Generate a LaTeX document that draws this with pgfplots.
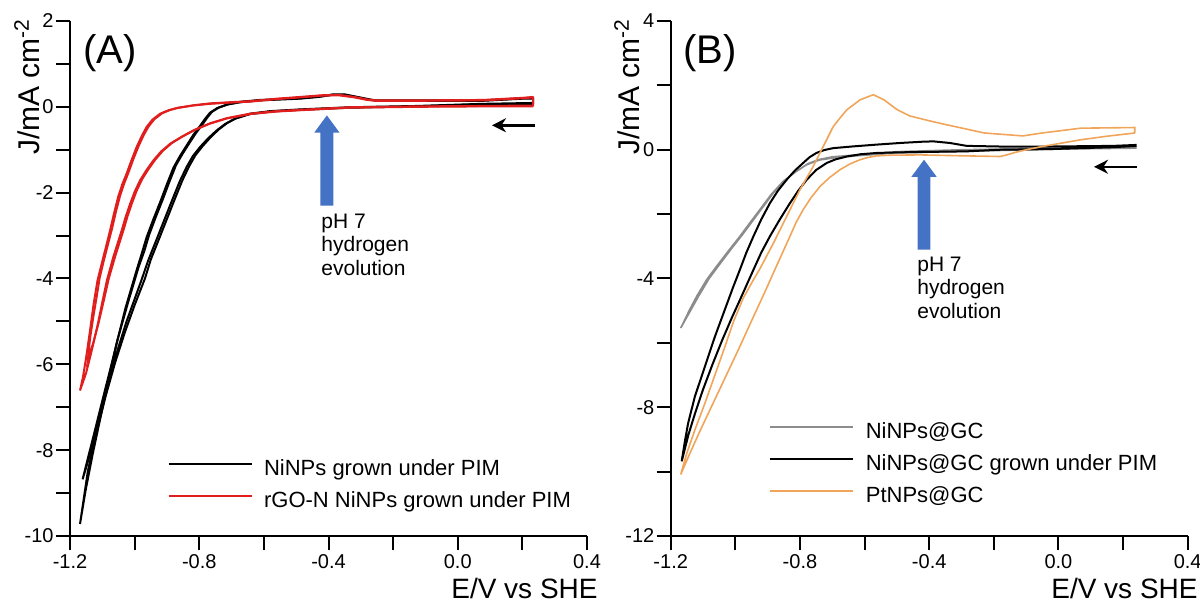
\documentclass[border=0pt]{standalone}
\usepackage{pgfplots}
\pgfplotsset{compat=1.18}
\usepackage{fontspec}
\setmainfont{Liberation Sans}
\usetikzlibrary{arrows.meta}

\definecolor{cvred}{RGB}{225,30,30}
\definecolor{cvorange}{RGB}{240,165,90}
\definecolor{cvgray}{RGB}{140,140,140}
\definecolor{arrowblue}{RGB}{68,114,196}

\tikzset{smallarrow/.style={line width=1.3pt, -{Stealth[length=7pt,width=7pt]}}}

\pgfplotsset{
  cvaxis/.style={
    scale only axis, width=258.5pt, height=257.5pt,
    anchor=south west,
    axis lines=left, axis line style={-, line width=1pt},
    tick align=outside, major tick length=7pt, minor tick length=7pt,
    tick style={black, line width=1pt},
    xmin=-1.2, xmax=0.4,
    xtick={-1.2,-0.8,-0.4,0,0.4},
    xticklabels={-1.2,-0.8,-0.4,0.0,0.4},
    minor xtick={-1,-0.6,-0.2,0.2},
    tick label style={font=\fontsize{10}{12}\selectfont},
    xticklabel style={inner sep=2pt},
    yticklabel style={inner sep=1pt},
    clip=false,
    legend cell align=left,
    legend style={draw=none, fill=none, font=\fontsize{11}{13}\selectfont,
      anchor=north west, inner sep=0pt, row sep=5.5pt, column sep=5.75pt,
      nodes={inner sep=0pt, text height=8pt, text depth=2.5pt}},
    legend image code/.code={\draw[#1] (0pt,2.75pt) -- (41.5pt,2.75pt);},
  },
}

\begin{document}
\begin{tikzpicture}
\useasboundingbox (0,0) rectangle (600pt,304.5pt);

% ---------------- panel A
\begin{axis}[cvaxis, at={(35pt,36.5pt)},
  ymin=-10, ymax=2, ytick={-10,-8,...,2}, yticklabels={-10,-8,-6,-4,-2,0,2},
  minor ytick={-9,-7,...,1},
  legend style={at={(0.188,0.150)}}]
\addplot[black, line width=1pt] coordinates {
 (0.233,0.07) (0.078,0.06) (-0.127,0.01) (-0.333,-0.02) (-0.488,-0.07) (-0.580,-0.11)
 (-0.643,-0.17) (-0.690,-0.28) (-0.720,-0.40) (-0.746,-0.55) (-0.772,-0.73) (-0.798,-0.94)
 (-0.820,-1.15) (-0.839,-1.40) (-0.860,-1.73) (-0.880,-2.10) (-0.900,-2.48) (-0.921,-2.88)
 (-0.940,-3.24) (-0.958,-3.58) (-0.978,-4.02) (-1.000,-4.48) (-1.025,-5.00) (-1.050,-5.60)
 (-1.075,-6.28) (-1.100,-7.00) (-1.122,-7.70) (-1.145,-8.50) (-1.169,-9.72)
 (-1.152,-8.95) (-1.130,-8.10) (-1.106,-7.25) (-1.082,-6.40) (-1.057,-5.55) (-1.028,-4.68)
 (-1.010,-4.22) (-0.994,-3.81) (-0.978,-3.42) (-0.963,-3.04) (-0.942,-2.62) (-0.921,-2.22)
 (-0.900,-1.80) (-0.880,-1.42) (-0.860,-1.15) (-0.839,-0.90) (-0.818,-0.65) (-0.798,-0.45)
 (-0.782,-0.28) (-0.767,-0.14) (-0.745,-0.03) (-0.715,0.05) (-0.670,0.11) (-0.612,0.15)
 (-0.550,0.17) (-0.488,0.19) (-0.430,0.23) (-0.386,0.28) (-0.350,0.28) (-0.310,0.22)
 (-0.270,0.16) (-0.251,0.14) (-0.127,0.14) (0.078,0.14) (0.202,0.19) (0.233,0.19) (0.233,0.07)
};
\addplot[black, line width=1pt, forget plot] coordinates {
 (0.233,0.09) (0.078,0.07) (-0.127,0.02) (-0.333,-0.01) (-0.488,-0.06) (-0.580,-0.10)
 (-0.643,-0.16) (-0.685,-0.26) (-0.714,-0.38) (-0.740,-0.53) (-0.765,-0.71) (-0.790,-0.92)
 (-0.812,-1.13) (-0.831,-1.38) (-0.852,-1.71) (-0.872,-2.08) (-0.892,-2.46) (-0.913,-2.86)
 (-0.932,-3.22) (-0.950,-3.56) (-0.968,-4.00) (-1.000,-4.62) (-1.030,-5.25) (-1.060,-5.95)
 (-1.090,-6.75) (-1.115,-7.50) (-1.140,-8.15) (-1.161,-8.68)
 (-1.145,-8.20) (-1.125,-7.60) (-1.100,-6.85) (-1.075,-6.10) (-1.050,-5.35) (-1.020,-4.55)
 (-0.988,-3.74) (-0.970,-3.36) (-0.955,-2.98) (-0.934,-2.56) (-0.913,-2.16) (-0.892,-1.74)
 (-0.872,-1.36) (-0.852,-1.10) (-0.831,-0.85) (-0.810,-0.61) (-0.791,-0.42) (-0.776,-0.26)
 (-0.761,-0.12) (-0.740,-0.02) (-0.710,0.06) (-0.670,0.12) (-0.612,0.16) (-0.550,0.18)
 (-0.488,0.20) (-0.430,0.24) (-0.386,0.29) (-0.350,0.29) (-0.310,0.23) (-0.270,0.17)
 (-0.251,0.15) (-0.127,0.15) (0.078,0.15) (0.202,0.20) (0.233,0.20)
};
\addplot[cvred, line width=1pt] coordinates {
 (0.233,0.01) (0.078,0.01) (-0.127,0.00) (-0.333,-0.02) (-0.488,-0.08) (-0.560,-0.11)
 (-0.643,-0.17) (-0.715,-0.27) (-0.770,-0.40) (-0.818,-0.55) (-0.855,-0.70) (-0.890,-0.86)
 (-0.918,-1.04) (-0.942,-1.25) (-0.963,-1.47) (-0.983,-1.71) (-1.000,-1.98) (-1.014,-2.26)
 (-1.028,-2.57) (-1.040,-2.88) (-1.053,-3.19) (-1.066,-3.50) (-1.086,-4.05) (-1.100,-4.55)
 (-1.115,-5.10) (-1.135,-5.75) (-1.150,-6.20) (-1.169,-6.61)
 (-1.160,-6.30) (-1.150,-5.84) (-1.138,-5.21) (-1.127,-4.60) (-1.115,-4.05) (-1.102,-3.66)
 (-1.089,-3.27) (-1.076,-2.88) (-1.064,-2.49) (-1.051,-2.10) (-1.038,-1.80) (-1.025,-1.56)
 (-1.010,-1.25) (-0.994,-0.94) (-0.978,-0.68) (-0.963,-0.47) (-0.945,-0.30) (-0.921,-0.16)
 (-0.895,-0.08) (-0.870,-0.03) (-0.820,0.03) (-0.767,0.07) (-0.700,0.10) (-0.643,0.12)
 (-0.560,0.18) (-0.488,0.22) (-0.420,0.26) (-0.370,0.27) (-0.320,0.22) (-0.280,0.16)
 (-0.251,0.14) (-0.127,0.14) (0.078,0.15) (0.202,0.20) (0.233,0.22) (0.233,0.01)
};
\addplot[cvred, line width=1pt, forget plot] coordinates {
 (0.233,0.03) (0.078,0.02) (-0.127,0.01) (-0.333,-0.01) (-0.488,-0.07) (-0.560,-0.10)
 (-0.643,-0.16) (-0.712,-0.26) (-0.765,-0.38) (-0.812,-0.53) (-0.849,-0.68) (-0.884,-0.84)
 (-0.912,-1.02) (-0.936,-1.23) (-0.957,-1.45) (-0.977,-1.69) (-0.994,-1.96) (-1.008,-2.24)
 (-1.022,-2.55) (-1.034,-2.86) (-1.047,-3.17) (-1.060,-3.48) (-1.080,-4.00) (-1.095,-4.50)
 (-1.112,-5.05) (-1.128,-5.50) (-1.145,-5.90)
 (-1.138,-5.40) (-1.128,-4.90) (-1.118,-4.45) (-1.108,-3.98) (-1.096,-3.60) (-1.083,-3.22)
 (-1.070,-2.84) (-1.058,-2.45) (-1.045,-2.07) (-1.032,-1.78) (-1.019,-1.53) (-1.004,-1.22)
 (-0.988,-0.92) (-0.972,-0.66) (-0.957,-0.46) (-0.939,-0.29) (-0.915,-0.15) (-0.889,-0.07)
 (-0.864,-0.02) (-0.814,0.04) (-0.767,0.08) (-0.700,0.11) (-0.643,0.13) (-0.560,0.19)
 (-0.488,0.23) (-0.420,0.27) (-0.370,0.28) (-0.320,0.23) (-0.280,0.17) (-0.251,0.15)
 (-0.127,0.15) (0.078,0.16) (0.202,0.21) (0.233,0.23)
};
\legend{NiNPs grown under PIM, rGO-N NiNPs grown under PIM}
\fill[arrowblue] (axis cs:-0.425,-2.30) -- (axis cs:-0.425,-0.60) -- (axis cs:-0.444,-0.60)
  -- (axis cs:-0.405,-0.20) -- (axis cs:-0.366,-0.60) -- (axis cs:-0.385,-0.60)
  -- (axis cs:-0.385,-2.30) -- cycle;
\node[anchor=north west, align=left, inner sep=0pt, font=\fontsize{10.5}{11.75}\selectfont]
  at (axis cs:-0.423,-2.48) {pH 7\\hydrogen\\evolution};
\draw[smallarrow] (axis cs:0.24,-0.43) -- (axis cs:0.106,-0.43);
\end{axis}

% ---------------- panel B
\begin{axis}[cvaxis, at={(335.35pt,36.5pt)},
  ymin=-12, ymax=4, ytick={-12,-8,...,4}, yticklabels={-12,-8,-4,0,4},
  minor ytick={-10,-6,-2,2},
  legend style={at={(0.190,0.222)}}]
\addplot[cvgray, line width=0.8pt] coordinates {
 (0.242,0.05) (0.000,0.02) (-0.300,-0.05) (-0.500,-0.10) (-0.614,-0.18) (-0.686,-0.24)
 (-0.740,-0.32) (-0.780,-0.47) (-0.815,-0.70) (-0.852,-0.98) (-0.890,-1.40) (-0.924,-1.86)
 (-0.955,-2.27) (-0.986,-2.69) (-1.022,-3.15) (-1.058,-3.62) (-1.089,-4.04) (-1.120,-4.56)
 (-1.142,-4.98) (-1.169,-5.54)
 (-1.136,-4.95) (-1.112,-4.52) (-1.081,-4.00) (-1.050,-3.58) (-1.014,-3.10) (-0.978,-2.64)
 (-0.947,-2.22) (-0.916,-1.80) (-0.882,-1.34) (-0.844,-0.92) (-0.808,-0.65) (-0.775,-0.43)
 (-0.740,-0.30) (-0.700,-0.22) (-0.614,-0.15) (-0.500,-0.06) (-0.300,0.00) (0.000,0.05)
 (0.242,0.08)
};
\addplot[black, line width=1pt] coordinates {
 (0.242,0.12) (0.170,0.08) (-0.026,0.02) (-0.181,0.00) (-0.284,-0.05) (-0.490,-0.08)
 (-0.562,-0.10) (-0.612,-0.14) (-0.655,-0.21) (-0.690,-0.30) (-0.717,-0.41) (-0.750,-0.63)
 (-0.779,-0.93) (-0.805,-1.27) (-0.831,-1.66) (-0.862,-2.16) (-0.893,-2.69) (-0.920,-3.20)
 (-0.944,-3.73) (-0.965,-4.20) (-0.985,-4.65) (-1.010,-5.20) (-1.040,-5.90) (-1.070,-6.65)
 (-1.100,-7.45) (-1.125,-8.20) (-1.145,-8.85) (-1.166,-9.68)
 (-1.156,-9.05) (-1.146,-8.49) (-1.125,-7.66) (-1.094,-6.73) (-1.063,-5.80) (-1.030,-4.90)
 (-1.008,-4.30) (-0.986,-3.73) (-0.966,-3.20) (-0.944,-2.69) (-0.920,-2.17) (-0.893,-1.66)
 (-0.868,-1.27) (-0.841,-0.93) (-0.815,-0.64) (-0.790,-0.41) (-0.770,-0.23) (-0.749,-0.10)
 (-0.725,-0.01) (-0.697,0.05) (-0.640,0.10) (-0.562,0.16) (-0.490,0.21) (-0.420,0.25)
 (-0.387,0.26) (-0.336,0.21) (-0.284,0.12) (-0.181,0.10) (-0.026,0.10) (0.170,0.12) (0.242,0.15)
};
\addplot[cvorange, line width=0.8pt] coordinates {
 (0.236,0.52) (0.150,0.42) (0.069,0.31) (-0.051,0.10) (-0.100,0.00) (-0.133,-0.08)
 (-0.160,-0.16) (-0.181,-0.21) (-0.288,-0.19) (-0.428,-0.16) (-0.520,-0.17) (-0.562,-0.19)
 (-0.590,-0.24) (-0.614,-0.31) (-0.645,-0.44) (-0.676,-0.62) (-0.708,-0.86) (-0.738,-1.14)
 (-0.765,-1.48) (-0.790,-1.86) (-0.812,-2.26) (-0.831,-2.69) (-0.872,-3.60) (-0.910,-4.45)
 (-0.950,-5.32) (-0.990,-6.20) (-1.030,-7.05) (-1.070,-7.90) (-1.110,-8.75) (-1.140,-9.42)
 (-1.169,-10.09)
 (-1.150,-9.42) (-1.125,-8.70) (-1.095,-7.90) (-1.065,-7.05) (-1.035,-6.20) (-1.005,-5.32)
 (-0.975,-4.60) (-0.944,-4.04) (-0.924,-3.70) (-0.882,-2.90) (-0.841,-2.07) (-0.800,-1.24)
 (-0.759,-0.52) (-0.728,0.10) (-0.697,0.72) (-0.675,1.00) (-0.655,1.24) (-0.614,1.55)
 (-0.573,1.71) (-0.540,1.55) (-0.500,1.25) (-0.460,1.05) (-0.400,0.90) (-0.348,0.78)
 (-0.229,0.52) (-0.110,0.43) (-0.051,0.52) (0.069,0.67) (0.236,0.69) (0.236,0.52)
};
\legend{NiNPs@GC, NiNPs@GC grown under PIM, PtNPs@GC}
\fill[arrowblue] (axis cs:-0.436,-3.10) -- (axis cs:-0.436,-0.84) -- (axis cs:-0.455,-0.84)
  -- (axis cs:-0.416,-0.31) -- (axis cs:-0.377,-0.84) -- (axis cs:-0.396,-0.84)
  -- (axis cs:-0.396,-3.10) -- cycle;
\node[anchor=north west, align=left, inner sep=0pt, font=\fontsize{10.5}{11.75}\selectfont]
  at (axis cs:-0.438,-3.32) {pH 7\\hydrogen\\evolution};
\draw[smallarrow] (axis cs:0.243,-0.53) -- (axis cs:0.110,-0.53);
\end{axis}

% ---------------- labels, in pixel units of the reference
\begin{scope}[x=0.5pt, y=-0.5pt, shift={(0pt,304.5pt)}]
\node[font=\fontsize{20}{24}\selectfont, inner sep=0pt] at (110,53) {(A)};
\node[font=\fontsize{20}{24}\selectfont, inner sep=0pt] at (710,53) {(B)};
\node[rotate=90, anchor=east, inner sep=0pt, font=\fontsize{15}{18}\selectfont] at (27,18) {J/mA cm\textsuperscript{-2}};
\node[rotate=90, anchor=east, inner sep=0pt, font=\fontsize{15}{18}\selectfont] at (627,18) {J/mA cm\textsuperscript{-2}};
\node[anchor=east, inner sep=0pt, font=\fontsize{14}{17}\selectfont] at (598,588) {E/V vs SHE};
\node[anchor=east, inner sep=0pt, font=\fontsize{14}{17}\selectfont] at (1198,588) {E/V vs SHE};
\end{scope}
\end{tikzpicture}
\end{document}
